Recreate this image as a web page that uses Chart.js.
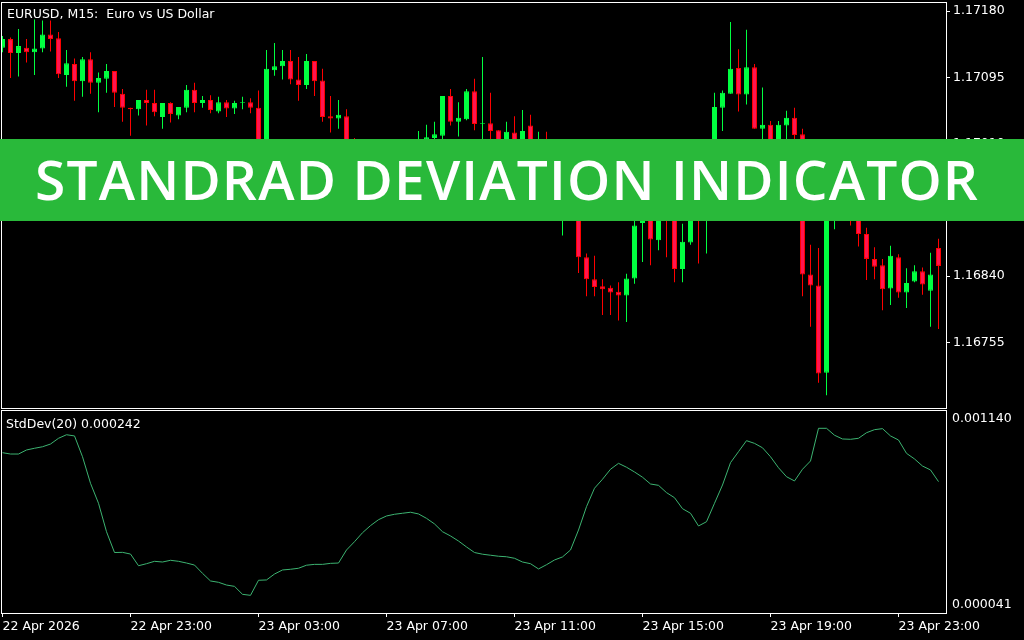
<!DOCTYPE html>
<html><head><meta charset="utf-8">
<script src="https://cdn.jsdelivr.net/npm/chart.js@4.4.1/dist/chart.umd.min.js"></script>
<style>
html,body{margin:0;padding:0;background:#000;width:1024px;height:640px;overflow:hidden}
#wrapMain{position:absolute;left:0;top:0;width:1024px;height:410px}
#wrapSub{position:absolute;left:0;top:410px;width:1024px;height:230px}
#banner{position:absolute;left:0;top:139px;width:1024px;height:82px;background:#29B93A;overflow:hidden}
#banner span{position:absolute;left:35px;top:-1px;line-height:82px;color:#fff;font-family:"Open Sans";font-weight:600;font-size:55px;white-space:nowrap}
</style>
</head><body>
<div id="wrapMain"><canvas id="mainChart"></canvas></div>
<div id="wrapSub"><canvas id="subChart"></canvas></div>
<div id="banner"><span id="bannerText">STANDRAD DEVIATION INDICATOR</span></div>
<script>
// ---- data (EURUSD M15 bars, index 0 = 22 Apr 19:00) ----
const opens = [1.17133,1.17144,1.17126,1.17133,1.17127,1.17132,1.17150,1.17145,1.17098,1.17112,
1.17090,1.17118,1.17088,1.17093,1.17103,1.17074,1.17056,1.17054,1.17066,1.17062,
1.17044,1.17062,1.17046,1.17056,1.17079,1.17062,1.17066,1.17051,1.17063,1.17055,
1.17062,1.17063,1.17056,1.17002,1.17104,1.17109,1.17116,1.17092,1.17085,1.17116,
1.17091,1.17045,1.17042,1.17045,1.17002,1.16982,1.16963,1.16973,1.16948,1.16940,
1.16953,1.16966,1.16957,1.16989,1.17017,1.17020,1.17071,1.17038,1.17041,1.17077,
1.17035,1.17036,1.17027,1.17002,1.17024,1.17002,1.17033,1.16989,1.17008,1.16982,
1.16938,1.16963,1.16938,1.16864,1.16836,1.16827,1.16825,1.16820,1.16815,1.16837,
1.16908,1.16938,1.16886,1.16918,1.16915,1.16849,1.16883,1.16938,1.16918,1.16963,
1.17056,1.17074,1.17107,1.17073,1.17108,1.17029,1.17034,1.17002,1.17033,1.17043,
1.17022,1.16842,1.16828,1.16716,1.16918,1.16938,1.16931,1.16918,1.16894,1.16862,
1.16854,1.16824,1.16864,1.16819,1.16833,1.16846,1.16821,1.16876];
const highs = [1.17148,1.17146,1.17157,1.17144,1.17169,1.17168,1.17168,1.17153,1.17130,1.17119,
1.17121,1.17127,1.17101,1.17112,1.17103,1.17080,1.17056,1.17066,1.17079,1.17079,
1.17062,1.17063,1.17057,1.17085,1.17088,1.17071,1.17072,1.17070,1.17066,1.17065,
1.17070,1.17068,1.17078,1.17130,1.17139,1.17130,1.17130,1.17121,1.17125,1.17116,
1.17106,1.17071,1.17066,1.17054,1.17017,1.16989,1.16979,1.16979,1.16953,1.16958,
1.16979,1.16976,1.17026,1.17034,1.17038,1.17071,1.17080,1.17063,1.17080,1.17093,
1.17121,1.17075,1.17027,1.17038,1.17045,1.17053,1.17047,1.17025,1.17025,1.17002,
1.16976,1.16970,1.16950,1.16869,1.16866,1.16836,1.16828,1.16832,1.16843,1.16918,
1.16944,1.16950,1.16931,1.16938,1.16925,1.16907,1.16944,1.16963,1.16976,1.17075,
1.17078,1.17166,1.17131,1.17156,1.17112,1.17082,1.17039,1.17039,1.17052,1.17056,
1.17029,1.16880,1.16876,1.16950,1.16957,1.16950,1.16944,1.16931,1.16902,1.16877,
1.16862,1.16879,1.16868,1.16850,1.16854,1.16851,1.16870,1.16888];
const lows = [1.17127,1.17094,1.17096,1.17114,1.17098,1.17127,1.17128,1.17094,1.17083,1.17065,
1.17070,1.17074,1.17050,1.17075,1.17057,1.17038,1.17020,1.17046,1.17033,1.17045,
1.17029,1.17037,1.17041,1.17050,1.17050,1.17056,1.17049,1.17049,1.17044,1.17048,
1.17054,1.17049,1.16991,1.16989,1.17097,1.17092,1.17086,1.17065,1.17080,1.17071,
1.17038,1.17024,1.17029,1.16995,1.16976,1.16957,1.16953,1.16938,1.16927,1.16931,
1.16943,1.16948,1.16950,1.16982,1.17008,1.17008,1.17033,1.17019,1.17040,1.17027,
1.17002,1.17008,1.16991,1.16989,1.16995,1.16991,1.16989,1.16982,1.16973,1.16950,
1.16892,1.16925,1.16844,1.16814,1.16814,1.16790,1.16790,1.16783,1.16781,1.16830,
1.16858,1.16854,1.16873,1.16864,1.16832,1.16832,1.16880,1.16856,1.16869,1.16950,
1.17026,1.17074,1.17051,1.17060,1.17029,1.17002,1.16989,1.16995,1.17008,1.17002,
1.16814,1.16775,1.16703,1.16687,1.16900,1.16918,1.16905,1.16878,1.16835,1.16836,
1.16796,1.16803,1.16812,1.16799,1.16832,1.16816,1.16775,1.16772];
const closes = [1.17144,1.17126,1.17135,1.17127,1.17132,1.17150,1.17144,1.17099,1.17113,1.17090,
1.17118,1.17088,1.17094,1.17103,1.17075,1.17056,1.17054,1.17066,1.17062,1.17050,
1.17062,1.17048,1.17057,1.17079,1.17062,1.17066,1.17053,1.17063,1.17055,1.17062,
1.17063,1.17056,1.17002,1.17106,1.17109,1.17116,1.17092,1.17085,1.17116,1.17090,
1.17044,1.17042,1.17047,1.17002,1.16982,1.16963,1.16973,1.16948,1.16940,1.16953,
1.16966,1.16957,1.16989,1.17018,1.17022,1.17071,1.17038,1.17043,1.17077,1.17035,
1.17036,1.17026,1.17002,1.17025,1.17002,1.17026,1.17002,1.17008,1.16982,1.16957,
1.16963,1.16938,1.16864,1.16836,1.16826,1.16823,1.16819,1.16815,1.16837,1.16905,
1.16938,1.16887,1.16918,1.16915,1.16849,1.16884,1.16938,1.16918,1.16957,1.17057,
1.17075,1.17106,1.17073,1.17108,1.17029,1.17034,1.17002,1.17034,1.17043,1.17021,
1.16842,1.16828,1.16715,1.16918,1.16938,1.16931,1.16918,1.16894,1.16862,1.16852,
1.16823,1.16866,1.16819,1.16831,1.16846,1.16829,1.16842,1.16853];
const stdDev = [0.000941,0.000933,0.000933,0.000957,0.000967,0.000976,0.000992,0.001026,0.001047,0.001040,
0.000917,0.000760,0.000642,0.000474,0.000351,0.000352,0.000342,0.000273,0.000285,0.000299,
0.000295,0.000305,0.000299,0.000289,0.000277,0.000228,0.000183,0.000175,0.000159,0.000151,
0.000104,0.000098,0.000187,0.000189,0.000224,0.000248,0.000252,0.000258,0.000276,0.000281,
0.000281,0.000287,0.000289,0.000366,0.000415,0.000468,0.000510,0.000545,0.000567,0.000577,
0.000583,0.000589,0.000579,0.000553,0.000520,0.000474,0.000449,0.000419,0.000384,0.000351,
0.000341,0.000335,0.000329,0.000326,0.000317,0.000295,0.000285,0.000254,0.000279,0.000307,
0.000325,0.000366,0.000484,0.000622,0.000731,0.000784,0.000843,0.000878,0.000855,0.000827,
0.000796,0.000756,0.000748,0.000705,0.000675,0.000610,0.000583,0.000508,0.000533,0.000642,
0.000750,0.000882,0.000947,0.001012,0.000996,0.000970,0.000917,0.000852,0.000799,0.000774,
0.000843,0.000892,0.001085,0.001085,0.001044,0.001022,0.001020,0.001026,0.001059,0.001077,
0.001083,0.001040,0.001016,0.000937,0.000904,0.000862,0.000839,0.000770];
const priceTicks = [1.17180,1.17095,1.17010,1.16925,1.16840,1.16755];
const stdTicks = [0.001140,0.000041];
const timeTickBars = [0,16,32,48,64,80,96,112];
const timeTickLabels = ['22 Apr 2026','22 Apr 23:00','23 Apr 03:00','23 Apr 07:00','23 Apr 11:00','23 Apr 15:00','23 Apr 19:00','23 Apr 23:00'];
const mainTitle = 'EURUSD, M15:  Euro vs US Dollar';
const subTitle = 'StdDev(20) 0.000242';

// ---- styling ----
const BULL = '#00FF40', BEAR_FILL = '#FF1450', BEAR_LINE = '#FF0000', STD_COLOR = '#3CB371';
Chart.defaults.font.family = '"DejaVu Sans", sans-serif';
Chart.defaults.font.size = 12.5;
Chart.defaults.color = '#fff';

const idx = opens.map((_, i) => i);
const isBull = i => closes[i] >= opens[i];
const X_MIN = -0.0625, X_MAX = 117.9375;

const panePlugin = {
  id: 'pane',
  afterDraw(chart, args, o) {
    const {ctx, chartArea: a} = chart;
    ctx.save();
    ctx.strokeStyle = '#fff';
    ctx.lineWidth = 1;
    ctx.strokeRect(a.left - 0.5, a.top - 0.5, a.right - a.left + 1, a.bottom - a.top + 1);
    ctx.fillStyle = '#fff';
    ctx.font = '12.5px "DejaVu Sans"';
    ctx.textBaseline = 'alphabetic';
    ctx.textAlign = 'left';
    ctx.fillText(o.text, o.x, o.y);
    ctx.restore();
  }
};

const noPad = s => { s.paddingTop = 0; s.paddingBottom = 0; s.paddingLeft = 0; s.paddingRight = 0; };
const fixWidth = s => { s.width = 78; noPad(s); };

new Chart(document.getElementById('mainChart'), {
  type: 'bar',
  data: {
    datasets: [
      {
        label: 'wick',
        data: idx.map(i => ({x: i, y: [lows[i], highs[i]]})),
        backgroundColor: c => isBull(c.dataIndex) ? BULL : BEAR_LINE,
        borderWidth: 0, inflateAmount: 0, grouped: false,
        barPercentage: 1, categoryPercentage: 1, maxBarThickness: 1,
        clip: 0, order: 2
      },
      {
        label: 'body',
        data: idx.map(i => ({x: i, y: [Math.min(opens[i], closes[i]), Math.max(opens[i], closes[i])]})),
        backgroundColor: c => isBull(c.dataIndex) ? BULL : BEAR_FILL,
        borderColor: c => isBull(c.dataIndex) ? BULL : BEAR_LINE,
        borderWidth: 1, borderSkipped: false, inflateAmount: 0, grouped: false,
        barPercentage: 1, categoryPercentage: 1, maxBarThickness: 5,
        clip: 0, order: 1
      }
    ]
  },
  options: {
    responsive: true, maintainAspectRatio: false, animation: false, events: [],
    devicePixelRatio: 1,
    layout: {autoPadding: false, padding: {left: 2, top: 3, right: 0, bottom: 2}},
    plugins: {legend: {display: false}, tooltip: {enabled: false},
      pane: {text: mainTitle, x: 7, y: 18}},
    scales: {
      x: {type: 'linear', display: false, min: X_MIN, max: X_MAX, offset: false, grid: {offset: false}},
      y: {
        type: 'linear', position: 'right', min: 1.166707, max: 1.171903,
        afterFit: fixWidth,
        afterBuildTicks: s => { s.ticks = priceTicks.map(v => ({value: v})); },
        ticks: {callback: v => v.toFixed(5), padding: 3, color: '#fff', autoSkip: false},
        grid: {drawOnChartArea: false, drawTicks: true, tickLength: 4, color: '#fff'},
        border: {display: false}
      }
    }
  },
  plugins: [panePlugin]
});

new Chart(document.getElementById('subChart'), {
  type: 'line',
  data: {
    datasets: [{
      label: 'StdDev(20)',
      data: idx.map(i => ({x: i, y: stdDev[i]})),
      borderColor: STD_COLOR, borderWidth: 1, pointRadius: 0, tension: 0, fill: false, clip: 0
    }]
  },
  options: {
    responsive: true, maintainAspectRatio: false, animation: false, events: [],
    devicePixelRatio: 1,
    layout: {autoPadding: false, padding: {left: 2, top: 1, right: 0, bottom: 0}},
    plugins: {legend: {display: false}, tooltip: {enabled: false},
      pane: {text: subTitle, x: 6, y: 18}},
    scales: {
      x: {
        type: 'linear', min: X_MIN, max: X_MAX, offset: false,
        afterFit: s => { s.height = 27; noPad(s); },
        afterBuildTicks: s => { s.ticks = timeTickBars.map(v => ({value: v})); },
        ticks: {callback: (v, i) => timeTickLabels[i], align: 'start', maxRotation: 0, autoSkip: false, padding: 2, color: '#fff'},
        grid: {drawOnChartArea: false, drawTicks: true, tickLength: 4, color: '#fff', offset: false},
        border: {display: false}
      },
      y: {
        type: 'linear', position: 'right', min: -0.00000635, max: 0.00118727,
        afterFit: fixWidth,
        afterBuildTicks: s => { s.ticks = stdTicks.map(v => ({value: v})); },
        ticks: {callback: v => v.toFixed(6), padding: 6, color: '#fff', autoSkip: false},
        grid: {drawOnChartArea: false, drawTicks: false, color: '#fff'},
        border: {display: false}
      }
    }
  },
  plugins: [panePlugin]
});

// fit banner text to its width in the reference
(function () {
  const el = document.getElementById('bannerText');
  const target = 943;
  const w = el.getBoundingClientRect().width;
  const n = el.textContent.length;
  el.style.letterSpacing = ((target - w) / (n - 1)) + 'px';
})();
</script>
</body></html>
